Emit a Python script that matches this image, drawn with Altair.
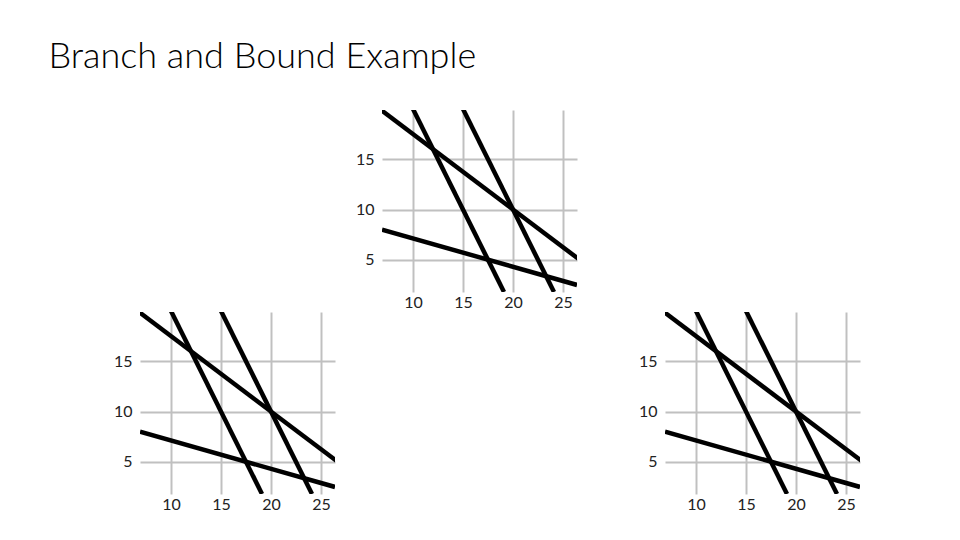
import altair as alt
import pandas as pd

# Constraint lines (endpoints, data units)
line_names = ["3x+4y=100", "2x+y=40", "2x+y=50", "2x+7y=70"]
line_x0 = [6.67, 10.0, 15.0, 6.9]
line_y0 = [20.0, 20.0, 20.0, 8.0]
line_x1 = [26.67, 19.1, 24.1, 26.4]
line_y1 = [5.0, 1.8, 1.8, 2.5]

x_ticks = [10, 15, 20, 25]
y_ticks = [5, 10, 15]
x_domain = [6.9, 26.4]
y_domain = [1.8, 19.9]

rows = []
for n, a, b, c, d in zip(line_names, line_x0, line_y0, line_x1, line_y1):
    rows.append({"line": n, "x": a, "y": b, "o": 0})
    rows.append({"line": n, "x": c, "y": d, "o": 1})
df = pd.DataFrame(rows)

FONT = "Lato"


def panel():
    return (
        alt.Chart(df)
        .mark_line(color="black", strokeWidth=4.5, clip=True)
        .encode(
            x=alt.X(
                "x:Q",
                scale=alt.Scale(domain=x_domain, nice=False, zero=False),
                axis=alt.Axis(
                    values=x_ticks, title=None, domain=False, ticks=False,
                    grid=True, gridColor="#c0c0c0", gridWidth=2,
                    labelFont=FONT, labelFontSize=16, labelColor="#222",
                    labelPadding=2,
                ),
            ),
            y=alt.Y(
                "y:Q",
                scale=alt.Scale(domain=y_domain, nice=False, zero=False),
                axis=alt.Axis(
                    values=y_ticks, title=None, domain=False, ticks=False,
                    grid=True, gridColor="#c0c0c0", gridWidth=2,
                    labelFont=FONT, labelFontSize=16, labelColor="#222",
                    labelPadding=8,
                ),
            ),
            detail="line:N",
            order="o:Q",
        )
        .properties(width=195, height=182)
    )


spacer = (
    alt.Chart(pd.DataFrame({"a": [0]}))
    .mark_point(opacity=0)
    .encode(x=alt.value(0), y=alt.value(0))
    .properties(width=215, height=182)
)

top_row = alt.hconcat(spacer, panel(), spacing=0)
bottom_row = alt.hconcat(panel(), panel(), spacing=303)

chart = (
    alt.vconcat(top_row, bottom_row, spacing=2)
    .properties(
        title=alt.TitleParams(
            "Branch and Bound Example",
            anchor="start", font=FONT, fontSize=36, fontWeight=300,
            color="black", offset=31, dx=-65,
        ),
        padding={"left": 40, "top": 31, "right": 5, "bottom": 5},
    )
    .configure_view(stroke=None)
    .configure_concat(spacing=0)
)

chart.save("out.html", embed_options={"renderer": "svg", "actions": False})
